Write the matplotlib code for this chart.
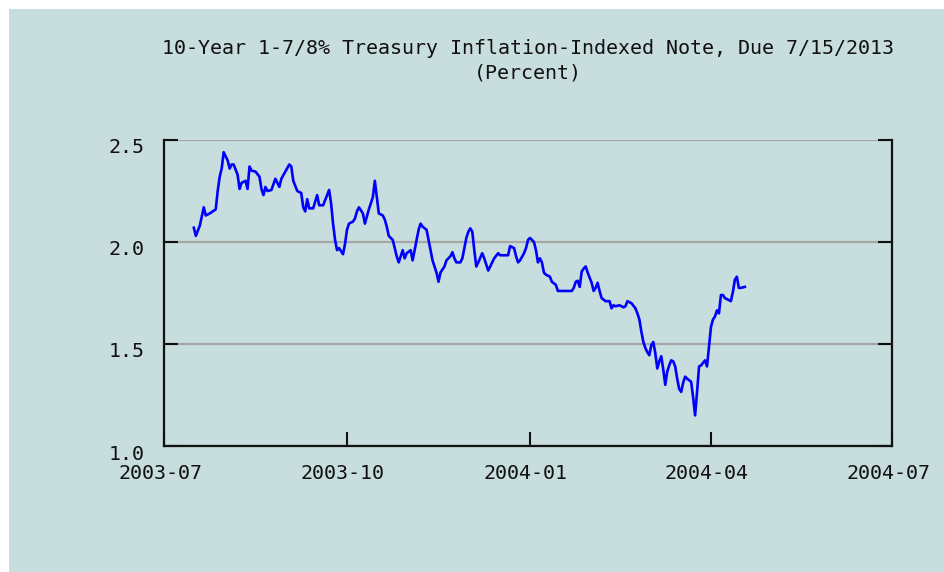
import numpy as np
import matplotlib
matplotlib.use("Agg")
import matplotlib.pyplot as plt
import matplotlib.dates as mdates
from matplotlib.transforms import ScaledTranslation
from matplotlib.patches import Rectangle

# yields, days counted from START
START = "2003-07-01"
day_offsets = [
    15, 16, 18, 20, 21, 23, 26, 27, 28, 29, 30, 31, 32, 33, 34, 35, 37, 38, 39, 41,
    42, 43, 44, 46, 48, 49, 50, 51, 52, 54, 56, 57, 58, 59, 61, 63, 64, 65, 67, 69,
    70, 71, 72, 73, 75, 77, 78, 80, 82, 83, 84, 85, 86, 87, 88, 90, 91, 92, 93, 95,
    96, 97, 98, 100, 101, 102, 103, 104, 105, 106, 107, 108, 110, 111, 112, 113, 115, 116, 117, 118,
    120, 121, 122, 124, 125, 126, 127, 128, 129, 130, 132, 133, 134, 135, 136, 137, 138, 139, 141, 142,
    144, 145, 146, 147, 149, 150, 151, 152, 153, 154, 155, 156, 157, 158, 160, 161, 163, 164, 165, 166,
    168, 169, 173, 174, 176, 177, 178, 179, 181, 182, 183, 184, 186, 187, 188, 189, 190, 191, 192, 194,
    195, 197, 198, 202, 205, 206, 207, 208, 209, 210, 211, 212, 213, 215, 216, 217, 218, 219, 220, 222,
    224, 225, 226, 227, 229, 231, 232, 233, 235, 237, 238, 239, 240, 241, 242, 243, 244, 245, 246, 247,
    248, 249, 250, 251, 252, 253, 254, 255, 256, 257, 258, 259, 260, 261, 262, 263, 265, 266, 267, 268,
    269, 270, 272, 273, 274, 275, 276, 277, 278, 279, 280, 281, 282, 284, 285, 286, 287, 288, 289, 290,
    292,
]
yields = [
    2.07, 2.03, 2.08, 2.17, 2.13, 2.14, 2.16, 2.25, 2.32, 2.36, 2.44, 2.42, 2.40, 2.36, 2.38, 2.38, 2.33, 2.26, 2.29, 2.30,
    2.26, 2.37, 2.35, 2.345, 2.32, 2.26, 2.23, 2.27, 2.25, 2.255, 2.31, 2.29, 2.27, 2.31, 2.345, 2.38, 2.37, 2.30, 2.25, 2.24,
    2.17, 2.15, 2.21, 2.165, 2.165, 2.23, 2.18, 2.18, 2.23, 2.255, 2.19, 2.09, 2.01, 1.96, 1.97, 1.94, 1.99, 2.06, 2.09, 2.10,
    2.115, 2.15, 2.17, 2.14, 2.09, 2.125, 2.16, 2.19, 2.22, 2.30, 2.22, 2.14, 2.13, 2.11, 2.075, 2.03, 2.01, 1.97, 1.93, 1.90,
    1.96, 1.92, 1.945, 1.96, 1.91, 1.96, 2.01, 2.06, 2.09, 2.075, 2.06, 2.01, 1.96, 1.91, 1.88, 1.85, 1.805, 1.85, 1.88, 1.91,
    1.93, 1.95, 1.92, 1.90, 1.90, 1.92, 1.97, 2.02, 2.05, 2.067, 2.05, 1.96, 1.88, 1.90, 1.945, 1.92, 1.86, 1.88, 1.90, 1.92,
    1.945, 1.935, 1.935, 1.98, 1.97, 1.93, 1.90, 1.91, 1.945, 1.97, 2.01, 2.02, 2.00, 1.96, 1.90, 1.92, 1.90, 1.85, 1.84, 1.83,
    1.805, 1.79, 1.76, 1.76, 1.76, 1.775, 1.805, 1.81, 1.78, 1.855, 1.87, 1.88, 1.85, 1.80, 1.76, 1.775, 1.80, 1.76, 1.725, 1.71,
    1.71, 1.675, 1.69, 1.685, 1.69, 1.68, 1.685, 1.71, 1.70, 1.675, 1.65, 1.62, 1.56, 1.51, 1.48, 1.46, 1.445, 1.495, 1.51, 1.455,
    1.38, 1.415, 1.44, 1.375, 1.30, 1.365, 1.395, 1.42, 1.415, 1.39, 1.33, 1.28, 1.265, 1.31, 1.34, 1.33, 1.315, 1.24, 1.15, 1.265,
    1.39, 1.395, 1.42, 1.39, 1.49, 1.585, 1.62, 1.635, 1.665, 1.65, 1.74, 1.74, 1.725, 1.715, 1.71, 1.755, 1.815, 1.83, 1.775, 1.775,
    1.78,
]
x_ticks = ["2003-07-01", "2003-10-01", "2004-01-01", "2004-04-01", "2004-07-01"]
y_ticks = [1.0, 1.5, 2.0, 2.5]
title = "10-Year 1-7/8% Treasury Inflation-Indexed Note, Due 7/15/2013\n(Percent)"

dates = np.datetime64(START) + np.array(day_offsets).astype("timedelta64[D]")

BG = "#c8dddd"
plt.rcParams["font.family"] = ["DejaVu Sans Mono"]

fig = plt.figure(figsize=(9.44, 5.72), dpi=100, facecolor="white")
# coloured panel, leaving a thin white strip on the left and top
fig.patches.append(Rectangle((9 / 944, 0), 1, 1 - 9 / 572, transform=fig.transFigure,
                             facecolor=BG, edgecolor="none", zorder=-10))

ax = fig.add_axes([164 / 944, 1 - 446 / 572, (892 - 164) / 944, (446 - 140) / 572])
ax.set_zorder(2)
ax.set_facecolor(BG)

ax.plot(dates, yields, color="#0000ff", lw=1.9, zorder=3)

ax.set_xlim(np.datetime64(x_ticks[0]), np.datetime64(x_ticks[-1]))
ax.set_ylim(1.0, 2.5)
ax.set_xticks([np.datetime64(t) for t in x_ticks])
ax.xaxis.set_major_formatter(mdates.DateFormatter("%Y-%m"))
ax.set_yticks(y_ticks)
ax.set_yticklabels([f"{v:.1f}" for v in y_ticks])

ax.yaxis.grid(True, color="#a6a6a6", lw=1.6, zorder=1)
ax.set_axisbelow(True)

for side in ["left", "right", "bottom"]:
    ax.spines[side].set_linewidth(1.6)
    ax.spines[side].set_color("#111111")
ax.spines["top"].set_visible(False)

ax.tick_params(axis="both", direction="in", length=10, width=1.5, color="#111111",
               labelsize=14.4, labelcolor="#111111")
ax.tick_params(axis="y", left=True, right=True, pad=14)
ax.tick_params(axis="x", top=False, pad=13)

for lab in ax.get_yticklabels():
    lab.set_transform(lab.get_transform() + ScaledTranslation(0, -6 / 100, fig.dpi_scale_trans))
for lab in ax.get_xticklabels():
    lab.set_transform(lab.get_transform() + ScaledTranslation(-4 / 100, 0, fig.dpi_scale_trans))

fig.text(528 / 944, 1 - 61 / 572, title, ha="center", va="center", fontsize=14.4,
         color="#111111", linespacing=1.35, multialignment="center", zorder=3)

plt.savefig("out.png", dpi=100, facecolor=fig.get_facecolor())
